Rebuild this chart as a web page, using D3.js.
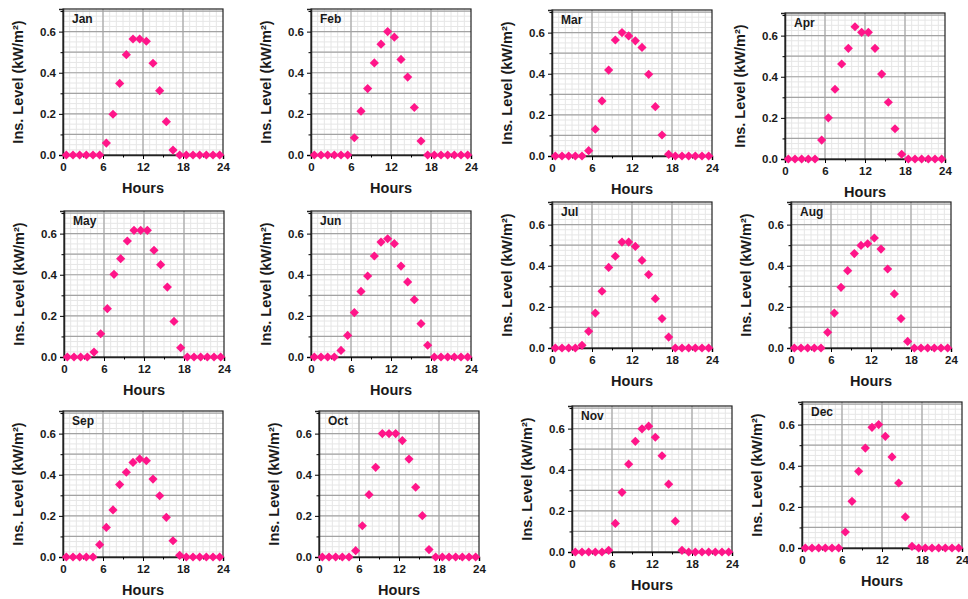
<!DOCTYPE html>
<html>
<head>
<meta charset="utf-8">
<script src="https://cdn.jsdelivr.net/npm/d3@7"></script>
<style>
  body { margin: 0; background: #fff; }
  text { font-family: Arial, 'Liberation Sans', sans-serif; fill: #1a1a1a; }
  .ytitle, .xtitle { font-weight: bold; }
</style>
</head>
<body>
<svg></svg>
<script>
const hours = [0.5, 1.5, 2.5, 3.5, 4.5, 5.5, 6.5, 7.5, 8.5, 9.5, 10.5, 11.5,
               12.5, 13.5, 14.5, 15.5, 16.5, 17.5, 18.5, 19.5, 20.5, 21.5, 22.5, 23.5];
const months = ['Jan', 'Feb', 'Mar', 'Apr', 'May', 'Jun', 'Jul', 'Aug', 'Sep', 'Oct', 'Nov', 'Dec'];

const jan = [0, 0, 0, 0, 0, 0, 0.058, 0.198, 0.348, 0.488, 0.564, 0.564, 0.553, 0.446, 0.313, 0.162, 0.024, 0, 0, 0, 0, 0, 0, 0];
const feb = [0, 0, 0, 0, 0, 0, 0.084, 0.213, 0.323, 0.448, 0.539, 0.600, 0.573, 0.465, 0.379, 0.231, 0.068, 0, 0, 0, 0, 0, 0, 0];
const mar = [0, 0, 0, 0, 0, 0.026, 0.130, 0.268, 0.418, 0.564, 0.600, 0.584, 0.560, 0.528, 0.397, 0.240, 0.102, 0.008, 0, 0, 0, 0, 0, 0];
const apr = [0, 0, 0, 0, 0, 0.092, 0.200, 0.339, 0.462, 0.538, 0.643, 0.616, 0.616, 0.538, 0.413, 0.276, 0.147, 0.023, 0, 0, 0, 0, 0, 0];
const may = [0, 0, 0, 0, 0.024, 0.113, 0.235, 0.402, 0.478, 0.564, 0.616, 0.616, 0.616, 0.519, 0.449, 0.340, 0.173, 0.045, 0, 0, 0, 0, 0, 0];
const jun = [0, 0, 0, 0, 0.032, 0.105, 0.216, 0.319, 0.394, 0.491, 0.559, 0.575, 0.551, 0.442, 0.365, 0.279, 0.162, 0.057, 0, 0, 0, 0, 0, 0];
const jul = [0, 0, 0, 0, 0.013, 0.081, 0.170, 0.276, 0.392, 0.446, 0.515, 0.515, 0.494, 0.426, 0.357, 0.240, 0.143, 0.053, 0, 0, 0, 0, 0, 0];
const aug = [0, 0, 0, 0, 0, 0.076, 0.170, 0.295, 0.376, 0.459, 0.499, 0.507, 0.535, 0.481, 0.384, 0.263, 0.143, 0.032, 0, 0, 0, 0, 0, 0];
const sep = [0, 0, 0, 0, 0, 0.060, 0.144, 0.229, 0.352, 0.412, 0.460, 0.477, 0.468, 0.379, 0.298, 0.193, 0.079, 0.008, 0, 0, 0, 0, 0, 0];
const oct = [0, 0, 0, 0, 0, 0.031, 0.152, 0.303, 0.436, 0.600, 0.600, 0.600, 0.566, 0.476, 0.339, 0.201, 0.036, 0, 0, 0, 0, 0, 0, 0];
const nov = [0, 0, 0, 0, 0, 0.008, 0.139, 0.290, 0.427, 0.538, 0.599, 0.612, 0.558, 0.468, 0.330, 0.150, 0.008, 0, 0, 0, 0, 0, 0, 0];
const dec = [0, 0, 0, 0, 0, 0, 0.078, 0.227, 0.373, 0.486, 0.587, 0.600, 0.543, 0.443, 0.316, 0.151, 0.008, 0, 0, 0, 0, 0, 0, 0];
const series = [jan, feb, mar, apr, may, jun, jul, aug, sep, oct, nov, dec];

const xTicks = [0, 6, 12, 18, 24];
const yTicks = [0, 0.2, 0.4, 0.6];

// panel placement (left, top) of each plot frame
const layout = [
  [63, 9], [311, 9], [552, 10], [785, 13],
  [64, 211], [311, 211], [552, 202], [791, 202],
  [63, 411], [319, 411], [572, 406], [802, 402]
];

const W = 160, H = 146;
const pink = '#ff1589';

const svg = d3.select('svg')
  .attr('width', 968)
  .attr('height', 599);

const x = d3.scaleLinear().domain([0, 24]).range([0, W]);
const y = d3.scaleLinear().domain([0, 0.71]).range([H, 0]);
const diamond = d3.symbol(d3.symbolSquare, 42);

months.forEach((m, i) => {
  const g = svg.append('g')
    .attr('transform', `translate(${layout[i][0]}, ${layout[i][1]})`);

  g.append('rect').attr('width', W).attr('height', H).attr('fill', '#fff');

  // light grid
  g.append('g').selectAll('line').data(d3.range(1, 24)).enter().append('line')
    .attr('x1', d => x(d)).attr('x2', d => x(d))
    .attr('y1', 0).attr('y2', H)
    .attr('stroke', '#e6e6e6').attr('stroke-width', 1);
  g.append('g').selectAll('line').data(d3.range(1, 29).map(k => k * 0.025)).enter().append('line')
    .attr('y1', d => y(d)).attr('y2', d => y(d))
    .attr('x1', 0).attr('x2', W)
    .attr('stroke', '#e6e6e6').attr('stroke-width', 1);

  // main grid
  g.append('g').selectAll('line').data([6, 12, 18]).enter().append('line')
    .attr('x1', d => x(d)).attr('x2', d => x(d))
    .attr('y1', 0).attr('y2', H)
    .attr('stroke', '#a3a3a3').attr('stroke-width', 1.2);
  g.append('g').selectAll('line').data([0.1, 0.2, 0.3, 0.4, 0.5, 0.6, 0.7]).enter().append('line')
    .attr('y1', d => y(d)).attr('y2', d => y(d))
    .attr('x1', 0).attr('x2', W)
    .attr('stroke', '#a3a3a3').attr('stroke-width', 1.2);

  g.append('rect').attr('width', W).attr('height', H)
    .attr('fill', 'none').attr('stroke', '#222').attr('stroke-width', 1.2);

  // axes
  const yAxis = g.append('g').call(d3.axisLeft(y)
    .tickValues(yTicks).tickSize(4).tickPadding(3).tickFormat(d3.format('.1f')));
  g.append('g').call(d3.axisLeft(y)
    .tickValues([0.1, 0.3, 0.5, 0.7]).tickSize(2.5).tickFormat(''))
    .select('.domain').remove();
  const xAxis = g.append('g')
    .attr('transform', `translate(0, ${H})`)
    .call(d3.axisBottom(x).tickValues(xTicks).tickSize(4).tickPadding(4));
  g.append('g')
    .attr('transform', `translate(0, ${H})`)
    .call(d3.axisBottom(x).tickValues([3, 9, 15, 21]).tickSize(2.5).tickFormat(''))
    .select('.domain').remove();
  [yAxis, xAxis].forEach(a => {
    a.select('.domain').attr('stroke', '#222').attr('stroke-width', 1.5);
    a.selectAll('.tick text')
      .style('font-size', '11.5px').style('font-weight', 'bold')
      .attr('fill', '#2a2a2a');
  });

  // points
  g.append('g').selectAll('path').data(series[i]).enter().append('path')
    .attr('d', diamond)
    .attr('transform', (d, k) => `translate(${x(hours[k])}, ${y(d)}) rotate(45)`)
    .attr('fill', pink);

  g.append('text')
    .text(m)
    .attr('x', 9).attr('y', 14)
    .style('font-size', '12px').style('font-weight', 'bold')
    .attr('fill', '#333');

  g.append('text')
    .attr('class', 'xtitle')
    .text('Hours')
    .attr('x', W / 2).attr('y', H + 38)
    .attr('text-anchor', 'middle')
    .style('font-size', '14.5px');

  g.append('text')
    .attr('class', 'ytitle')
    .text('Ins. Level (kW/m²)')
    .attr('transform', `translate(-40, ${H / 2}) rotate(-90)`)
    .attr('text-anchor', 'middle')
    .style('font-size', '14.5px');
});
</script>
</body>
</html>
